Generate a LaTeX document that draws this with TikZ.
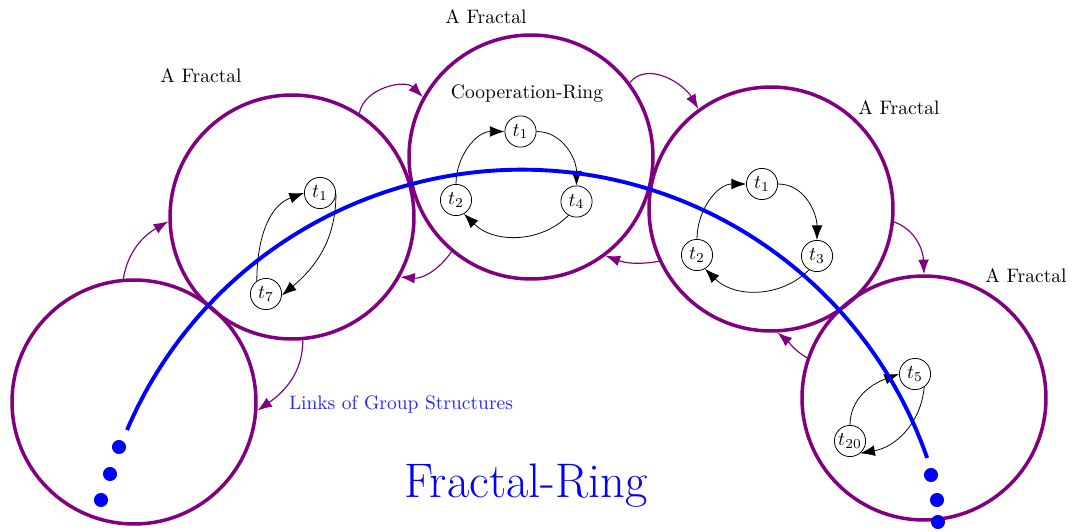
\documentclass[tikz,border=0pt]{standalone}
\usetikzlibrary{arrows.meta}
\begin{document}
\begin{tikzpicture}[x=0.5128pt,y=0.5128pt,
  ring/.style={circle,draw=violet,line width=1.8pt,minimum size=125.1pt,inner sep=0pt},
  tnode/.style={circle,draw,thin,minimum size=16pt,inner sep=0pt},
  flow/.style={-{Latex[length=7.5pt,width=5.5pt]},thin},
  link/.style={-{Latex[length=7.5pt,width=5.5pt]},violet,semithick},
  dotb/.style={circle,fill=blue,inner sep=0pt,minimum size=7.2pt},
  ringline/.style={blue,line width=2pt}]
\useasboundingbox (0,0) rectangle (1072,-532);
% rings
\node[ring] (c1) at (134,-402) {};
\node[ring] (c2) at (292,-217) {};
\node[ring] (c3) at (531,-157) {};
\node[ring] (c4) at (771,-209) {};
\node[ring] (c5) at (924,-398) {};
% labels
\node (l2) at (201,-76) {A Fractal};
\node (l3) at (486,-17) {A Fractal};
\node (l4) at (899,-108) {A Fractal};
\node (l5) at (1026,-276) {A Fractal};
\node (coop) at (527,-94) {Cooperation-Ring};
\node[text=blue!85] (links) at (401,-405) {Links of Group Structures};
\node[text=blue,font=\Huge] (title) at (526,-486) {Fractal-Ring};
% ring 2
\node[tnode] (a1) at (320,-193) {$t_1$};
\node[tnode] (a7) at (266,-294) {$t_7$};
\draw[flow] (a7.125) to[out=90,in=200] (a1.west);
\draw[flow] (a1.-5) to[out=-90,in=40] (a7.-5);
% ring 3
\node[tnode] (b1) at (520.5,-131.5) {$t_1$};
\node[tnode] (b2) at (456,-200) {$t_2$};
\node[tnode] (b4) at (576.5,-201.5) {$t_4$};
\draw[flow] (b2.north) to[out=90,in=180] (b1.west);
\draw[flow] (b1.east) to[out=0,in=90] (b4.north);
\draw[flow] (b4.240) to[out=225,in=-45] (b2.-60);
% ring 4
\node[tnode] (d1) at (762,-184) {$t_1$};
\node[tnode] (d2) at (697,-255) {$t_2$};
\node[tnode] (d3) at (817,-256) {$t_3$};
\draw[flow] (d2.north) to[out=90,in=180] (d1.west);
\draw[flow] (d1.east) to[out=0,in=90] (d3.north);
\draw[flow] (d3.240) to[out=225,in=-45] (d2.-60);
% ring 5
\node[tnode] (e5) at (915,-374) {$t_5$};
\node[tnode] (e20) at (850,-441) {$t_{20}$};
\draw[flow] (e20.north) to[out=90,in=200] (e5.west);
\draw[flow] (e5.-55) to[out=-95,in=10] (e20.-50);
% links between rings
\draw[link] (c1.95) to[out=80,in=210] (c2.182);
\draw[link] (c2.57) to[out=80,in=135] (c3.151);
\draw[link] (c3.37) to[out=50,in=120] (c4.126);
\draw[link] (c4.-6) to[out=-20,in=92] (c5.90);
\draw[link] (c5.161) to[out=150,in=-40] (c4.-87);
\draw[link] (c4.205) to[out=190,in=-20] (c3.-53);
\draw[link] (c3.230) to[out=235,in=-5] (c2.-29);
\draw[link] (c2.-85) to[out=-90,in=35] (c1.-4);
% big ring line
\coordinate (bs) at (127,-430);
\draw[ringline] (bs) arc[start angle=156.8,end angle=19.2,radius=429.4];
% dots
\node[dotb] (p1) at (119,-447) {};
\node[dotb] (p2) at (110,-474) {};
\node[dotb] (p3) at (101,-500) {};
\node[dotb] (q1) at (931,-475) {};
\node[dotb] (q2) at (937,-500) {};
\node[dotb] (q3) at (938,-522) {};
\end{tikzpicture}
\end{document}
